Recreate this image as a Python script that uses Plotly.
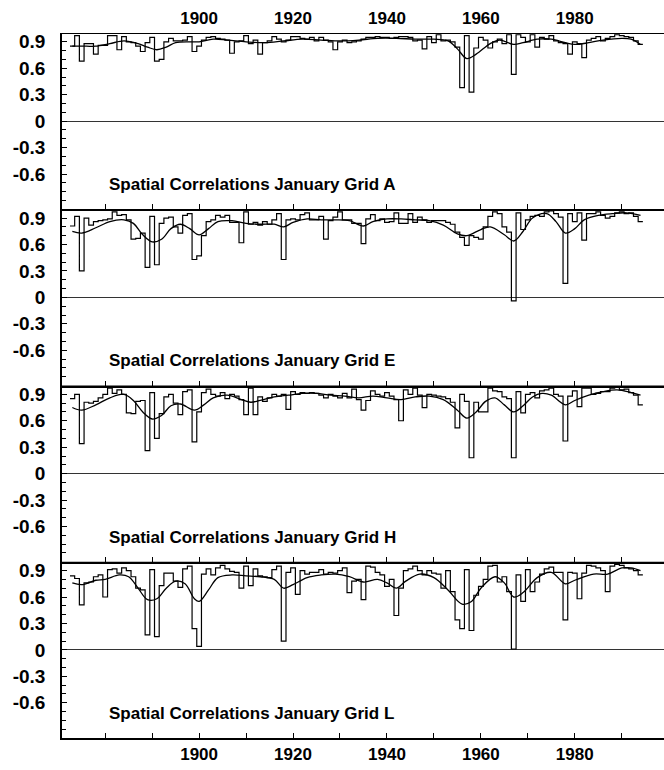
import plotly.graph_objects as go

YEARS = list(range(1873, 1995))

GRID_A = [0.85, 0.97, 0.68, 0.88, 0.88, 0.76, 0.86, 0.86, 0.97, 0.97,
          0.81, 0.96, 0.90, 0.89, 0.85, 0.79, 0.89, 0.95, 0.68, 0.70,
          0.90, 0.94, 0.91, 0.91, 0.92, 0.96, 0.79, 0.85, 0.92, 0.95,
          0.96, 0.94, 0.93, 0.92, 0.77, 0.90, 0.91, 0.97, 0.88, 0.92,
          0.76, 0.89, 0.91, 0.96, 0.93, 0.90, 0.92, 0.96, 0.96, 0.94,
          0.93, 0.95, 0.91, 0.95, 0.92, 0.90, 0.81, 0.90, 0.92, 0.89,
          0.90, 0.91, 0.93, 0.95, 0.95, 0.96, 0.95, 0.95, 0.94, 0.95,
          0.96, 0.96, 0.95, 0.91, 0.92, 0.82, 0.96, 0.89, 0.98, 0.91,
          0.92, 0.90, 0.84, 0.38, 0.97, 0.33, 0.83, 0.95, 0.92, 0.83,
          0.90, 0.93, 0.88, 0.98, 0.53, 0.98, 0.95, 0.90, 0.98, 0.84,
          0.95, 0.93, 0.97, 0.91, 0.89, 0.88, 0.76, 0.90, 0.88, 0.72,
          0.92, 0.94, 0.96, 0.91, 0.94, 0.96, 0.98, 0.97, 0.96, 0.95,
          0.91, 0.87]

GRID_E = [0.81, 0.92, 0.30, 0.90, 0.82, 0.86, 0.87, 0.88, 0.89, 0.97,
          0.93, 0.94, 0.88, 0.66, 0.67, 0.73, 0.34, 0.92, 0.37, 0.84,
          0.90, 0.91, 0.80, 0.73, 0.93, 0.95, 0.43, 0.47, 0.70, 0.86,
          0.88, 0.93, 0.91, 0.93, 0.85, 0.85, 0.62, 0.97, 0.83, 0.85,
          0.82, 0.86, 0.83, 0.88, 0.95, 0.43, 0.88, 0.89, 0.88, 0.94,
          0.96, 0.88, 0.88, 0.92, 0.66, 0.87, 0.91, 0.97, 0.88, 0.88,
          0.84, 0.84, 0.61, 0.89, 0.94, 0.87, 0.89, 0.85, 0.86, 0.96,
          0.84, 0.84, 0.95, 0.85, 0.91, 0.88, 0.85, 0.87, 0.87, 0.87,
          0.85, 0.83, 0.74, 0.68, 0.59, 0.70, 0.68, 0.66, 0.80, 0.92,
          0.97, 0.95, 0.80, 0.74, -0.04, 0.96, 0.77, 0.88, 0.92, 0.93,
          0.92, 0.97, 0.98, 0.95, 0.91, 0.16, 0.95, 0.86, 0.96, 0.65,
          0.95, 0.95, 0.97, 0.93, 0.90, 0.92, 0.96, 0.97, 0.95, 0.96,
          0.92, 0.86]

GRID_H = [0.85, 0.90, 0.34, 0.81, 0.80, 0.82, 0.86, 0.90, 0.97, 0.91,
          0.95, 0.90, 0.69, 0.68, 0.82, 0.83, 0.26, 0.92, 0.40, 0.68,
          0.87, 0.90, 0.80, 0.67, 0.93, 0.95, 0.36, 0.70, 0.92, 0.96,
          0.90, 0.88, 0.92, 0.85, 0.90, 0.88, 0.84, 0.67, 0.97, 0.67,
          0.87, 0.82, 0.86, 0.90, 0.88, 0.90, 0.73, 0.93, 0.90, 0.92,
          0.91, 0.92, 0.91, 0.89, 0.86, 0.90, 0.88, 0.86, 0.91, 0.86,
          0.96, 0.84, 0.72, 0.83, 0.94, 0.90, 0.88, 0.92, 0.88, 0.84,
          0.60, 0.95, 0.90, 0.97, 0.89, 0.75, 0.90, 0.89, 0.88, 0.87,
          0.85, 0.81, 0.52, 0.90, 0.82, 0.18, 0.81, 0.70, 0.70, 0.97,
          0.94, 0.93, 0.87, 0.85, 0.18, 0.93, 0.69, 0.90, 0.92, 0.86,
          0.94, 0.95, 0.97, 0.90, 0.88, 0.37, 0.88, 0.94, 0.76, 0.97,
          0.97, 0.90, 0.91, 0.93, 0.93, 0.97, 0.98, 0.95, 0.96, 0.92,
          0.89, 0.78]

GRID_L = [0.84, 0.81, 0.51, 0.76, 0.77, 0.83, 0.85, 0.60, 0.91, 0.92,
          0.87, 0.93, 0.90, 0.83, 0.70, 0.68, 0.17, 0.91, 0.15, 0.73,
          0.87, 0.87, 0.78, 0.71, 0.92, 0.95, 0.24, 0.04, 0.86, 0.92,
          0.85, 0.93, 0.96, 0.92, 0.89, 0.88, 0.70, 0.95, 0.73, 0.92,
          0.84, 0.83, 0.82, 0.91, 0.95, 0.10, 0.88, 0.93, 0.63, 0.90,
          0.86, 0.88, 0.88, 0.91, 0.86, 0.88, 0.87, 0.90, 0.93, 0.65,
          0.78, 0.80, 0.57, 0.95, 0.94, 0.88, 0.85, 0.72, 0.80, 0.39,
          0.70, 0.90, 0.92, 0.95, 0.90, 0.85, 0.90, 0.87, 0.86, 0.70,
          0.90, 0.66, 0.34, 0.24, 0.91, 0.22, 0.62, 0.72, 0.80, 0.95,
          0.96, 0.77, 0.83, 0.66, 0.01, 0.85, 0.55, 0.91, 0.66, 0.77,
          0.86, 0.92, 0.94, 0.88, 0.88, 0.34, 0.88, 0.87, 0.58, 0.87,
          0.96, 0.95, 0.93, 0.90, 0.66, 0.95, 0.97, 0.96, 0.93, 0.92,
          0.90, 0.85]

# smoothed curves
SMOOTH_A_YEARS = [1873, 1876, 1878, 1881, 1884, 1887, 1889, 1891, 1893, 1895, 1898, 1900, 1903, 1906, 1910,
                  1914, 1918, 1922, 1926, 1930, 1934, 1938, 1942, 1946, 1950, 1953, 1955, 1957, 1959,
                  1962, 1964, 1967, 1969, 1972, 1975, 1978, 1980, 1983, 1986, 1990, 1992, 1994]
SMOOTH_A = [0.85, 0.85, 0.85, 0.88, 0.91, 0.88, 0.84, 0.81, 0.84, 0.89, 0.90, 0.90, 0.93, 0.92, 0.90,
            0.89, 0.91, 0.93, 0.92, 0.91, 0.92, 0.94, 0.94, 0.93, 0.93, 0.91, 0.82, 0.71, 0.76,
            0.88, 0.92, 0.87, 0.89, 0.93, 0.93, 0.89, 0.87, 0.89, 0.92, 0.94, 0.93, 0.87]

SMOOTH_E_YEARS = [1873, 1875, 1878, 1881, 1884, 1886, 1888, 1890, 1892, 1894, 1896, 1898, 1900, 1902, 1904,
                  1907, 1910, 1913, 1916, 1918, 1920, 1923, 1926, 1929, 1932, 1935, 1937, 1940, 1943,
                  1946, 1949, 1952, 1955, 1957, 1960, 1962, 1965, 1967, 1969, 1971, 1974, 1976, 1978,
                  1980, 1982, 1985, 1988, 1991, 1994]
SMOOTH_E = [0.75, 0.73, 0.79, 0.86, 0.88, 0.84, 0.71, 0.63, 0.66, 0.78, 0.83, 0.78, 0.71, 0.78, 0.86,
            0.87, 0.84, 0.83, 0.83, 0.80, 0.85, 0.89, 0.88, 0.88, 0.87, 0.81, 0.86, 0.89, 0.89,
            0.88, 0.87, 0.82, 0.72, 0.70, 0.77, 0.80, 0.71, 0.64, 0.75, 0.90, 0.95, 0.86, 0.73,
            0.78, 0.88, 0.93, 0.95, 0.96, 0.93]

SMOOTH_H_YEARS = [1873, 1875, 1878, 1881, 1884, 1886, 1888, 1890, 1892, 1894, 1896, 1899, 1901, 1903, 1906,
                  1909, 1911, 1913, 1916, 1919, 1922, 1925, 1928, 1931, 1934, 1937, 1940, 1943, 1946,
                  1949, 1952, 1955, 1957, 1959, 1961, 1963, 1965, 1967, 1969, 1971, 1973, 1975, 1978,
                  1980, 1983, 1986, 1989, 1992, 1994]
SMOOTH_H = [0.75, 0.72, 0.78, 0.86, 0.90, 0.83, 0.70, 0.62, 0.66, 0.77, 0.79, 0.72, 0.78, 0.86, 0.89,
            0.84, 0.81, 0.83, 0.87, 0.89, 0.91, 0.91, 0.89, 0.88, 0.86, 0.88, 0.86, 0.84, 0.87,
            0.88, 0.84, 0.72, 0.63, 0.70, 0.82, 0.86, 0.78, 0.70, 0.77, 0.87, 0.91, 0.89, 0.78,
            0.83, 0.89, 0.93, 0.95, 0.92, 0.89]

SMOOTH_L_YEARS = [1873, 1875, 1878, 1880, 1883, 1885, 1887, 1889, 1891, 1893, 1895, 1897, 1899, 1900, 1902,
                  1904, 1907, 1910, 1913, 1916, 1918, 1920, 1923, 1926, 1929, 1932, 1935, 1938, 1940,
                  1942, 1944, 1947, 1950, 1953, 1956, 1958, 1960, 1963, 1965, 1967, 1969, 1972, 1975,
                  1978, 1980, 1984, 1987, 1990, 1992, 1994]
SMOOTH_L = [0.76, 0.74, 0.79, 0.80, 0.85, 0.83, 0.70, 0.57, 0.58, 0.70, 0.78, 0.75, 0.58, 0.55, 0.68,
            0.82, 0.85, 0.84, 0.83, 0.80, 0.70, 0.74, 0.82, 0.85, 0.86, 0.83, 0.77, 0.80, 0.76,
            0.70, 0.78, 0.86, 0.82, 0.68, 0.52, 0.55, 0.70, 0.83, 0.76, 0.60, 0.65, 0.82, 0.88,
            0.75, 0.79, 0.86, 0.86, 0.93, 0.93, 0.90]

PANELS = [("A", GRID_A, SMOOTH_A_YEARS, SMOOTH_A),
          ("E", GRID_E, SMOOTH_E_YEARS, SMOOTH_E),
          ("H", GRID_H, SMOOTH_H_YEARS, SMOOTH_H),
          ("L", GRID_L, SMOOTH_L_YEARS, SMOOTH_L)]

Y_TICKS = [-0.6, -0.3, 0, 0.3, 0.6, 0.9]
Y_TICKTEXT = ["-0.6", "-0.3", "0", "0.3", "0.6", "0.9"]
X_LABELS = [1900, 1920, 1940, 1960, 1980]
X_RANGE = [1870.8, 1999.0]

FONT = "Liberation Sans"
fig = go.Figure()
n = len(PANELS)
h = 1.0 / n

for i, (name, vals, sy, sv) in enumerate(PANELS):
    k = i + 1
    xa = "x" if k == 1 else f"x{k}"
    ya = "y" if k == 1 else f"y{k}"
    xs = [yr - 0.5 for yr in YEARS] + [YEARS[-1] + 0.5]
    ys = list(vals) + [vals[-1]]
    fig.add_trace(go.Scatter(x=xs, y=ys, mode="lines", line=dict(shape="hv", color="black", width=1.2),
                             xaxis=xa, yaxis=ya, showlegend=False, hoverinfo="skip"))
    fig.add_trace(go.Scatter(x=sy, y=sv, mode="lines", line=dict(shape="spline", color="black", width=1.3),
                             xaxis=xa, yaxis=ya, showlegend=False, hoverinfo="skip"))
    dom = [1 - (i + 1) * h, 1 - i * h]
    xkey = "xaxis" if k == 1 else f"xaxis{k}"
    ykey = "yaxis" if k == 1 else f"yaxis{k}"
    fig.layout[xkey] = dict(
        range=X_RANGE, anchor=ya, domain=[0, 1], automargin=False,
        tickvals=X_LABELS, ticktext=[str(v) for v in X_LABELS],
        showticklabels=(k == n), ticks="inside", ticklen=5, tickwidth=1.2, tickcolor="black",
        minor=dict(tick0=1880, dtick=10, ticks="inside", ticklen=5, tickwidth=1.2, tickcolor="black"),
        showline=True, linecolor="black", linewidth=2, showgrid=False, zeroline=False,
        ticklabelstandoff=0,
        tickfont=dict(family=FONT, size=17, color="black", weight="bold"),
    )
    fig.layout[ykey] = dict(
        range=[-1.0, 1.0], domain=dom, anchor=xa, automargin=False,
        tickvals=Y_TICKS, ticktext=Y_TICKTEXT, ticks="inside", ticklen=5, tickwidth=1, tickcolor="black",
        minor=dict(dtick=0.1, tick0=0, ticks="inside", ticklen=4, tickwidth=1, tickcolor="black"),
        showline=True, linecolor="black", linewidth=1.5, showgrid=False,
        zeroline=True, zerolinecolor="#333", zerolinewidth=1.2,
        ticklabelstandoff=11,
        tickfont=dict(family=FONT, size=19, color="black", weight="bold"),
    )
    fig.add_shape(type="line", xref="paper", yref=ya, x0=0, x1=1, y0=1.0, y1=1.0,
                  line=dict(color="black", width=2))
    fig.add_annotation(x=1880.3, y=-0.72, xref=xa, yref=ya, xanchor="left", yanchor="middle",
                       text=f"<b>Spatial Correlations January Grid {name}</b>", showarrow=False,
                       font=dict(family=FONT, size=17, color="black"))

fig.layout["xaxis5"] = dict(
    range=X_RANGE, overlaying="x", anchor="y", side="top", automargin=False,
    tickvals=X_LABELS, ticktext=[str(v) for v in X_LABELS], ticks="", showline=False,
    showgrid=False, zeroline=False, ticklabelstandoff=5,
    tickfont=dict(family=FONT, size=17, color="black", weight="bold"),
)
fig.add_trace(go.Scatter(x=[X_RANGE[0]], y=[None], xaxis="x5", yaxis="y", showlegend=False, hoverinfo="skip"))

fig.update_layout(
    width=664, height=770,
    margin=dict(l=62, r=0, t=33, b=32),
    paper_bgcolor="white", plot_bgcolor="white",
    font=dict(family=FONT, color="black"),
    showlegend=False,
)

fig.write_html("out.html", config={"displayModeBar": False},
               post_script="document.body.style.margin='0';document.body.style.overflow='hidden';")
